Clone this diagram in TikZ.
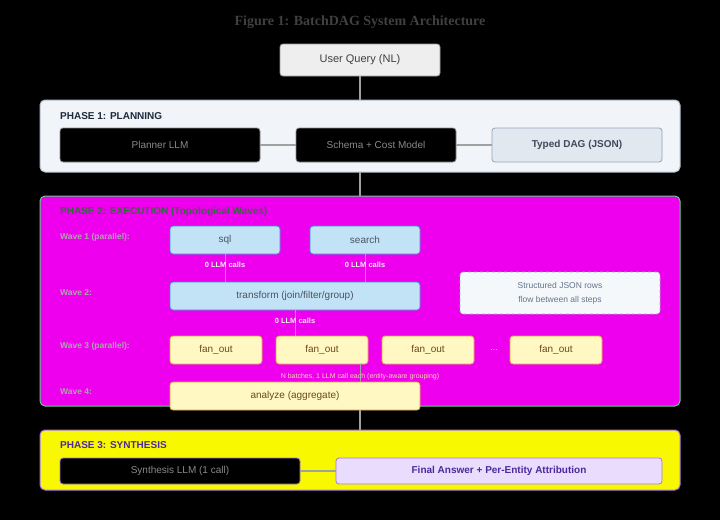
\documentclass[tikz,border=0pt]{standalone}
\usepackage{fontspec}
\setmainfont{Liberation Sans}
\newfontfamily\titlefont{Liberation Serif}
\usetikzlibrary{positioning}

\definecolor{bgblack}{HTML}{000000}
\definecolor{querygray}{HTML}{EEEEEE}
\definecolor{queryline}{HTML}{9A9A9A}
\definecolor{planfill}{HTML}{F1F5F9}
\definecolor{planline}{HTML}{AFBCCB}
\definecolor{plantext}{HTML}{1E293B}
\definecolor{dagfill}{HTML}{E2E8F0}
\definecolor{dagline}{HTML}{94A3B8}
\definecolor{execfill}{HTML}{EE00EE}
\definecolor{execline}{HTML}{5ED08C}
\definecolor{exectext}{HTML}{2E6B3A}
\definecolor{wavegray}{HTML}{A8A8A8}
\definecolor{bluefill}{HTML}{C2E2F6}
\definecolor{blueline}{HTML}{3B8FD0}
\definecolor{yellowfill}{HTML}{FFF8C2}
\definecolor{yellowline}{HTML}{E3A23A}
\definecolor{browntext}{HTML}{6B4A1E}
\definecolor{batchtext}{HTML}{F3D6A8}
\definecolor{notefill}{HTML}{F5F8FB}
\definecolor{notetext}{HTML}{64748B}
\definecolor{synfill}{HTML}{F8F800}
\definecolor{synline}{HTML}{A678E6}
\definecolor{syntext}{HTML}{4C2A9A}
\definecolor{finalfill}{HTML}{E9DCFC}
\definecolor{darkbox}{HTML}{8A8A8A}

\begin{document}
\begin{tikzpicture}[x=1pt,y=-1pt,
  box/.style={rounded corners=3pt, inner sep=0pt, outer sep=0pt, font=\fontsize{10}{12}\selectfont},
  panel/.style={rounded corners=5pt, inner sep=0pt, outer sep=0pt, line width=1pt},
  darkbox/.style={box, fill=black, draw=darkbox, line width=0.8pt, text=darkbox},
  bluebox/.style={box, fill=bluefill, draw=blueline, line width=0.8pt, text=plantext!80},
  yellowbox/.style={box, fill=yellowfill, draw=yellowline, line width=0.8pt, text=browntext},
  phaselabel/.style={anchor=west, inner sep=0pt, font=\fontsize{10}{12}\selectfont\bfseries},
  wavelabel/.style={anchor=west, inner sep=0pt, text=wavegray, font=\fontsize{8.5}{10}\selectfont\bfseries},
  calls/.style={inner sep=0pt, text=white!85!gray, font=\fontsize{7.5}{9}\selectfont\bfseries},
  link/.style={draw=darkbox!80, line width=1.2pt}
]

% background and margins
\fill[bgblack] (0,0) rectangle (720,520);
\useasboundingbox (0,0) rectangle (720,520);

\node[inner sep=0pt, text=black!75, font=\titlefont\fontsize{14}{16}\selectfont\bfseries] (title) at (360,22) {Figure 1: BatchDAG System Architecture};

\node[box, fill=querygray, draw=queryline, line width=0.8pt, text=black!75, minimum width=160pt, minimum height=32pt, font=\fontsize{11}{13}\selectfont] (query) at (360,60) {User Query (NL)};

% phase 1
\node[panel, fill=planfill, draw=planline, minimum width=640pt, minimum height=72pt] (p1) at (360,136) {};
\node[phaselabel, text=plantext] (p1lab) at (60,116) {PHASE 1: PLANNING};
\node[darkbox, minimum width=200pt, minimum height=34pt] (planner) at (160,145) {Planner LLM};
\node[darkbox, minimum width=160pt, minimum height=34pt] (schema) at (376,145) {Schema + Cost Model};
\node[box, fill=dagfill, draw=dagline, line width=0.8pt, text=plantext!85, minimum width=170pt, minimum height=34pt, font=\fontsize{10}{12}\selectfont\bfseries] (dag) at (577,145) {Typed DAG (JSON)};

% phase 2
\node[panel, fill=execfill, draw=execline, minimum width=640pt, minimum height=210pt] (p2) at (360,301) {};
\node[phaselabel, text=exectext] (p2lab) at (60,212) {PHASE 2: EXECUTION (Topological Waves)};

\node[wavelabel] (w1) at (60,237) {Wave 1 (parallel):};
\node[wavelabel] (w2) at (60,293) {Wave 2:};
\node[wavelabel] (w3) at (60,346) {Wave 3 (parallel):};
\node[wavelabel] (w4) at (60,392) {Wave 4:};

\node[bluebox, minimum width=110pt, minimum height=28pt] (sql) at (225,240) {sql};
\node[bluebox, minimum width=110pt, minimum height=28pt] (search) at (365,240) {search};
\node[bluebox, minimum width=250pt, minimum height=28pt] (transform) at (295,296) {transform (join/filter/group)};

\node[box, fill=notefill, draw=dagline, dashed, line width=0.6pt, text=notetext, minimum width=200pt, minimum height=42pt, align=center, font=\fontsize{8.5}{14}\selectfont] (note) at (560,293) {Structured JSON rows\\flow between all steps};

\node[yellowbox, minimum width=92pt, minimum height=28pt] (fan1) at (216,350) {fan\_out};
\node[yellowbox, minimum width=92pt, minimum height=28pt] (fan2) at (322,350) {fan\_out};
\node[yellowbox, minimum width=92pt, minimum height=28pt] (fan3) at (428,350) {fan\_out};
\node[inner sep=0pt, text=batchtext, font=\fontsize{9}{10}\selectfont] (dots) at (494,350) {...};
\node[yellowbox, minimum width=92pt, minimum height=28pt] (fan4) at (556,350) {fan\_out};

\node[yellowbox, minimum width=250pt, minimum height=28pt] (analyze) at (295,396) {analyze (aggregate)};

\draw[link, line width=0.6pt] (sql.south) -- (sql.south |- transform.north);
\draw[link, line width=0.6pt] (search.south) -- (search.south |- transform.north);
\draw[link, line width=0.6pt] (transform.south) -- (transform.south |- fan2.north);
\draw[link, line width=0.6pt] (fan2.south -| p2.north) -- (analyze.north -| p2.north);

\node[calls] (c1) at (225,265) {0 LLM calls};
\node[calls] (c2) at (365,265) {0 LLM calls};
\node[calls] (c3) at (295,321) {0 LLM calls};
\node[inner sep=0pt, text=batchtext, font=\fontsize{7}{8}\selectfont] (batches) at (360,377) {N batches, 1 LLM call each (entity-aware grouping)};

% phase 3
\node[panel, fill=synfill, draw=synline, minimum width=640pt, minimum height=60pt] (p3) at (360,460) {};
\node[phaselabel, text=syntext] (p3lab) at (60,445) {PHASE 3: SYNTHESIS};
\node[darkbox, draw=synline, minimum width=240pt, minimum height=26pt] (synth) at (180,471) {Synthesis LLM (1 call)};
\node[box, fill=finalfill, draw=synline, line width=0.8pt, text=syntext, minimum width=326pt, minimum height=26pt, font=\fontsize{10}{12}\selectfont\bfseries] (final) at (499,471) {Final Answer + Per-Entity Attribution};

% connectors
\draw[link] (query) -- (p1);
\draw[link] (planner) -- (schema);
\draw[link] (schema) -- (dag);
\draw[link] (p1) -- (p2);
\draw[link] (analyze.south -| p3.north) -- (p3.north);
\draw[link] (synth) -- (final);

\end{tikzpicture}
\end{document}
